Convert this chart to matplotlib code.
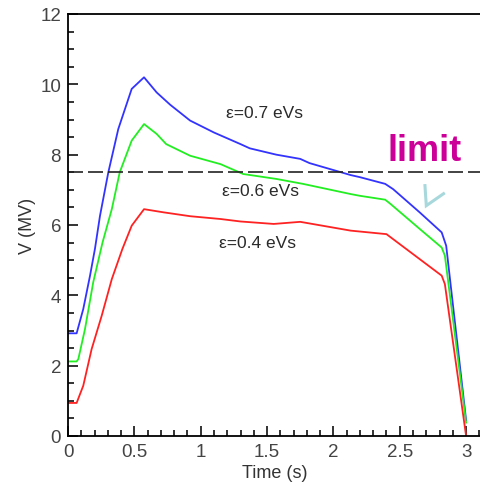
import numpy as np
import matplotlib
matplotlib.use('agg')
from matplotlib import pyplot as plt
from matplotlib.ticker import MultipleLocator

plt.rcParams['font.family'] = ['Liberation Sans', 'DejaVu Sans']

# voltage programmes for three emittances
t_07 = [0.0, 0.065, 0.115, 0.166, 0.203, 0.241, 0.304, 0.379, 0.48, 0.573, 0.668, 0.77,
        0.92, 1.10, 1.30, 1.37, 1.57, 1.75, 1.82, 2.13, 2.20, 2.39, 2.45, 2.65,
        2.816, 2.85, 3.0]
v_07 = [2.92, 2.92, 3.61, 4.56, 5.32, 6.26, 7.5, 8.73, 9.87, 10.2, 9.77, 9.42,
        8.97, 8.63, 8.30, 8.18, 8.0, 7.88, 7.76, 7.42, 7.36, 7.17, 7.02, 6.36,
        5.79, 5.41, 0.45]

t_06 = [0.0, 0.065, 0.078, 0.128, 0.19, 0.26, 0.33, 0.39, 0.48, 0.573, 0.668, 0.74,
        0.92, 1.15, 1.32, 1.57, 1.77, 2.13, 2.20, 2.39, 2.43, 2.65, 2.816, 2.84, 3.0]
v_06 = [2.12, 2.12, 2.19, 3.04, 4.37, 5.5, 6.45, 7.5, 8.4, 8.87, 8.59, 8.3,
        7.97, 7.73, 7.45, 7.31, 7.17, 6.88, 6.83, 6.72, 6.6, 5.89, 5.36, 5.13, 0.38]

t_04 = [0.0, 0.065, 0.115, 0.178, 0.254, 0.33, 0.41, 0.48, 0.573, 0.72, 0.92, 1.15,
        1.30, 1.55, 1.75, 2.13, 2.40, 2.816, 2.84, 3.0]
v_04 = [0.94, 0.94, 1.43, 2.47, 3.42, 4.46, 5.32, 5.98, 6.45, 6.36, 6.25, 6.17,
        6.1, 6.03, 6.09, 5.84, 5.74, 4.56, 4.32, 0.0]

v_limit = 7.5

fig = plt.figure(figsize=(4.81, 4.89), dpi=100)
ax = fig.add_axes([68/481, 52/489, 1 - 68/481, (437-15)/489])

ax.plot(t_07, v_07, color='#3333ff', lw=1.3)
ax.plot(t_06, v_06, color='#22ee22', lw=1.3)
ax.plot(t_04, v_04, color='#ff2222', lw=1.3)
ax.axhline(v_limit, color='#222222', lw=1.2, dashes=(9, 3))

lbl = dict(fontsize=12.5, ha='center', va='center', color='#2a2a2a')
ax.text(1.48, 9.2, 'ε=0.7 eVs', **lbl)
ax.text(1.45, 6.97, 'ε=0.6 eVs', **lbl)
ax.text(1.43, 5.49, 'ε=0.4 eVs', **lbl)
ax.text(2.69, 8.12, 'limit', fontsize=26, fontweight='bold', color='#cc0099',
        ha='center', va='center')

# small chevron pointing at the blue curve
ax.plot([2.69, 2.70, 2.83], [7.12, 6.55, 6.89], color='#a8d8dc', lw=2.2,
        solid_joinstyle='miter')

ax.set_xlim(0, 413/132.7)
ax.set_ylim(0, 12)
ax.xaxis.set_major_locator(MultipleLocator(0.5))
ax.xaxis.set_minor_locator(MultipleLocator(0.1))
ax.yaxis.set_major_locator(MultipleLocator(2))
ax.yaxis.set_minor_locator(MultipleLocator(0.5))
ax.xaxis.set_major_formatter(plt.FuncFormatter(lambda v, p: f'{v:g}'))
ax.tick_params(which='both', direction='in', colors='#111111', labelcolor='#444444',
               labelsize=13.5, width=1.2)
ax.tick_params(which='major', length=7, pad=5)
ax.tick_params(which='minor', length=4)
ax.spines['right'].set_visible(False)
for s in ['left', 'bottom', 'top']:
    ax.spines[s].set_linewidth(1.3)
ax.set_xlabel('Time (s)', fontsize=13, color='#333333', labelpad=3)
ax.set_ylabel('V (MV)', fontsize=13, color='#333333', labelpad=3)

fig.savefig('out.png', dpi=100)
